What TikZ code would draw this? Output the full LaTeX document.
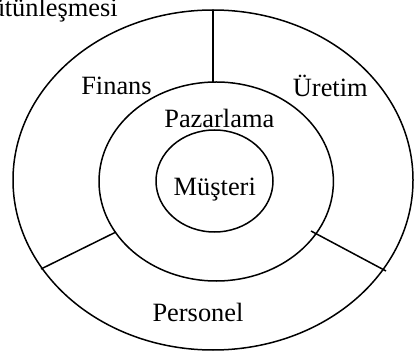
\documentclass[tikz,border=0pt]{standalone}
\usepackage{fontspec}
\setmainfont{Liberation Serif}
\usetikzlibrary{shapes.geometric}
\begin{document}
\begin{tikzpicture}[x=1pt,y=-1pt,
  ring/.style={draw=black,line width=1.5pt,ellipse,inner sep=0pt},
  divider/.style={draw=black,line width=1.5pt},
  lbl/.style={inner sep=0pt,anchor=base,font=\fontsize{26.4}{30}\selectfont}]
\useasboundingbox (0,0) rectangle (414,352);
% rings
\node[ring,minimum width=400pt,minimum height=340pt] (outer) at (213,180) {};
\node[ring,minimum width=234.4pt,minimum height=199pt] (middle) at (216.2,181.5) {};
\node[ring,minimum width=117pt,minimum height=102pt] (inner) at (214.5,181) {};
% divider end points
\coordinate (t1) at (213,10);
\coordinate (t2) at (213,82);
\coordinate (l1) at (41,269);
\coordinate (l2) at (116,232);
\coordinate (r1) at (311,231);
\coordinate (r2) at (386,271);
\draw[divider] (t1) -- (t2);
\draw[divider] (l1) -- (l2);
\draw[divider] (r1) -- (r2);
% labels
\node[lbl,anchor=base east] (title) at (118,16.7) {Bütünleşmesi};
\node[lbl] (finans) at (116.5,95) {Finans};
\node[lbl] (uretim) at (330.3,96.7) {Üretim};
\node[lbl] (pazar) at (219.3,127.7) {Pazarlama};
\node[lbl] (musteri) at (214.8,196) {Müşteri};
\node[lbl] (personel) at (198,321.7) {Personel};
\end{tikzpicture}
\end{document}
